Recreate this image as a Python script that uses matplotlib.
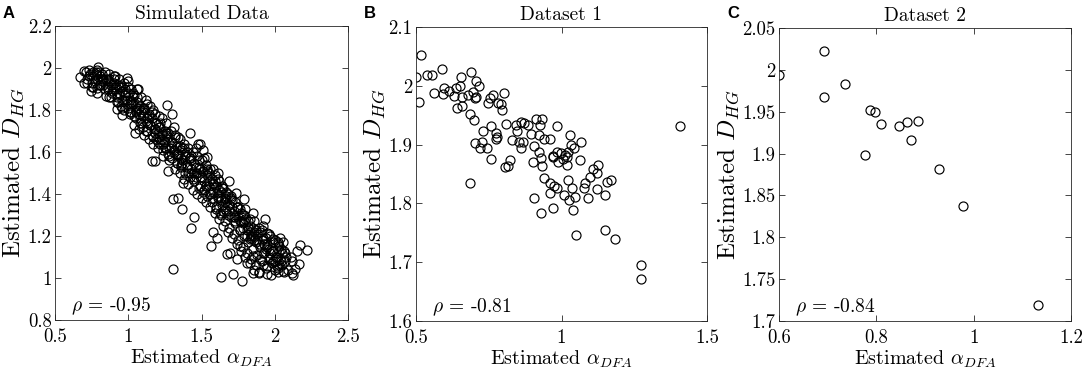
import matplotlib
matplotlib.use("Agg")
import matplotlib.pyplot as plt

plt.rcParams['font.family'] = 'serif'
plt.rcParams['font.serif'] = ['cmr10', 'DejaVu Serif']
plt.rcParams['mathtext.fontset'] = 'cm'
plt.rcParams['axes.unicode_minus'] = False
plt.rcParams['axes.formatter.use_mathtext'] = True

# ---------------- Panel A: simulated data ----------------
sim_alpha = [
    0.72, 0.74, 0.75, 0.76, 0.77, 0.78, 0.79, 0.80, 0.80, 0.81, 0.82, 0.83, 0.84, 0.85, 0.86, 0.87, 0.88, 0.89,
    0.90, 0.91, 0.92, 0.93, 0.94, 0.95, 0.96, 0.96, 0.97, 0.98, 0.99, 1.00, 1.00, 1.01, 1.02, 1.02, 1.03, 1.04,
    1.05, 1.05, 1.06, 1.07, 1.08, 1.08, 1.09, 1.10, 1.10, 1.11, 1.12, 1.13, 1.13, 1.14, 1.15, 1.16, 1.16, 1.17,
    1.18, 1.19, 1.19, 1.20, 1.21, 1.22, 1.22, 1.23, 1.24, 1.25, 1.25, 1.26, 1.27, 1.27, 1.28, 1.29, 1.30, 1.30,
    1.31, 1.32, 1.33, 1.33, 1.34, 1.35, 1.36, 1.36, 1.37, 1.38, 1.39, 1.39, 1.40, 1.41, 1.42, 1.42, 1.43, 1.44,
    1.45, 1.45, 1.46, 1.47, 1.48, 1.48, 1.49, 1.50, 1.51, 1.51, 1.52, 1.53, 1.54, 1.54, 1.55, 1.56, 1.57, 1.57,
    1.58, 1.59, 1.60, 1.60, 1.61, 1.62, 1.63, 1.63, 1.64, 1.65, 1.66, 1.66, 1.67, 1.68, 1.69, 1.69, 1.70, 1.71,
    1.72, 1.72, 1.73, 1.74, 1.75, 1.75, 1.76, 1.77, 1.78, 1.78, 1.79, 1.80, 1.81, 1.81, 1.82, 1.83, 1.84, 1.84,
    1.85, 1.86, 1.87, 1.87, 1.88, 1.89, 1.90, 1.91, 1.92, 1.93, 1.94, 1.95, 1.96, 1.97, 1.98, 1.99, 2.00, 2.01,
    2.02, 2.03, 2.05, 2.07, 2.09, 2.11,
    0.70, 0.73, 0.76, 0.79, 0.82, 0.84, 0.87, 0.88, 0.90, 0.92, 0.94, 0.95, 0.97, 0.98, 1.00, 1.01, 1.03, 1.04,
    1.06, 1.07, 1.09, 1.11, 1.12, 1.14, 1.15, 1.17, 1.18, 1.20, 1.21, 1.23, 1.24, 1.26, 1.28, 1.29, 1.31, 1.32,
    1.34, 1.35, 1.37, 1.38, 1.40, 1.41, 1.43, 1.44, 1.46, 1.47, 1.49, 1.50, 1.52, 1.53, 1.55, 1.56, 1.58, 1.59,
    1.61, 1.62, 1.64, 1.65, 1.67, 1.68, 1.70, 1.71, 1.73, 1.74, 1.76, 1.77, 1.79, 1.80, 1.82, 1.83, 1.85, 1.86,
    1.88, 1.89, 1.91, 1.92, 1.94, 1.95, 1.97, 1.99, 2.00, 2.02, 2.04, 2.06, 2.08, 1.06, 1.18, 1.26, 1.36, 1.46,
    1.56, 1.66, 1.76, 1.86, 1.96, 1.02, 1.13, 1.23, 1.33, 1.43, 1.53, 1.63, 1.73, 1.83, 1.93,
    0.71, 0.75, 0.78, 0.81, 0.83, 0.85, 0.86, 0.89, 0.91, 0.93, 0.95, 0.97, 0.99, 1.01, 1.03, 1.05, 1.07, 1.09,
    1.11, 1.13, 1.15, 1.17, 1.19, 1.21, 1.23, 1.25, 1.27, 1.29, 1.31, 1.33, 1.35, 1.37, 1.39, 1.41, 1.43, 1.45,
    1.47, 1.49, 1.51, 1.53, 1.55, 1.57, 1.59, 1.61, 1.63, 1.65, 1.67, 1.69, 1.71, 1.73, 1.75, 1.77, 1.79, 1.81,
    1.83, 1.85, 1.87, 1.89, 1.91, 1.93, 1.95, 1.97, 1.99, 2.01, 2.03, 2.05,
    0.72, 0.76, 0.79, 0.82, 0.84, 0.86, 0.87, 0.90, 0.92, 0.94, 0.96, 0.98, 1.00, 1.02, 1.04, 1.06, 1.08, 1.10,
    1.12, 1.14, 1.16, 1.18, 1.20, 1.22, 1.24, 1.26, 1.28, 1.30, 1.32, 1.34, 1.36, 1.38, 1.40, 1.42, 1.44, 1.46,
    1.48, 1.50, 1.52, 1.54, 1.56, 1.58, 1.60, 1.62, 1.64, 1.66, 1.68, 1.70, 1.72, 1.74, 1.76, 1.78, 1.80, 1.82,
    1.84, 1.86, 1.88, 1.90, 1.92, 1.94, 1.96, 1.98, 2.00, 2.02, 2.04, 2.06,
    0.671, 0.700, 0.746, 0.791, 0.784, 0.734, 0.910, 0.989, 1.069, 0.921, 0.955, 1.046, 1.160, 1.183, 1.262,
    1.296, 1.421, 1.478, 1.308, 1.365, 1.342, 1.451, 1.428, 1.308, 1.269, 1.376,
    1.490, 1.513, 1.540, 1.690, 1.793, 1.581, 1.604, 1.563, 1.672, 1.718, 1.631, 1.779, 1.854, 1.895, 1.972,
    2.025, 2.036, 2.054, 2.032, 2.070, 2.036, 2.116, 2.168, 2.123, 2.138, 2.116, 2.150, 2.173, 2.218, 1.934,
    1.922, 1.736, 1.854, 1.945, 1.991, 1.831, 1.854, 1.809, 1.945, 1.900, 1.763, 1.740, 2.013, 2.059, 1.695,
    1.786, 1.627, 1.661, 1.604, 1.581, 1.615, 1.535,
]
sim_dhg = [
    1.95, 1.97, 1.93, 1.96, 1.94, 1.97, 1.95, 1.92, 1.98, 1.96, 1.94, 1.95, 1.93, 1.95, 1.91, 1.94, 1.92, 1.89,
    1.93, 1.90, 1.87, 1.92, 1.88, 1.91, 1.85, 1.89, 1.93, 1.87, 1.83, 1.88, 1.81, 1.85, 1.90, 1.79, 1.83, 1.87,
    1.80, 1.76, 1.84, 1.78, 1.82, 1.74, 1.86, 1.77, 1.72, 1.80, 1.75, 1.70, 1.83, 1.78, 1.73, 1.68, 1.76, 1.80,
    1.71, 1.66, 1.74, 1.69, 1.77, 1.64, 1.72, 1.68, 1.61, 1.70, 1.65, 1.74, 1.59, 1.67, 1.62, 1.70, 1.57, 1.65,
    1.60, 1.68, 1.55, 1.63, 1.58, 1.66, 1.53, 1.61, 1.56, 1.64, 1.50, 1.59, 1.54, 1.62, 1.48, 1.57, 1.52, 1.60,
    1.46, 1.55, 1.50, 1.58, 1.43, 1.53, 1.48, 1.56, 1.41, 1.51, 1.46, 1.54, 1.39, 1.49, 1.44, 1.52, 1.36, 1.47,
    1.41, 1.49, 1.33, 1.44, 1.38, 1.46, 1.30, 1.41, 1.35, 1.43, 1.27, 1.38, 1.32, 1.40, 1.24, 1.35, 1.29, 1.37,
    1.21, 1.32, 1.26, 1.34, 1.18, 1.29, 1.23, 1.31, 1.15, 1.26, 1.20, 1.28, 1.12, 1.23, 1.17, 1.25, 1.09, 1.20,
    1.14, 1.22, 1.06, 1.17, 1.11, 1.24, 1.15, 1.08, 1.19, 1.12, 1.05, 1.16, 1.10, 1.20, 1.07, 1.13, 1.04, 1.10,
    1.16, 1.06, 1.12, 1.08, 1.04, 1.10,
    1.93, 1.99, 1.91, 1.99, 1.97, 1.90, 1.97, 1.86, 1.96, 1.84, 1.95, 1.82, 1.80, 1.90, 1.94, 1.78, 1.88, 1.73,
    1.90, 1.71, 1.79, 1.68, 1.85, 1.66, 1.82, 1.64, 1.78, 1.62, 1.72, 1.76, 1.58, 1.68, 1.56, 1.63, 1.72, 1.52,
    1.67, 1.50, 1.62, 1.47, 1.60, 1.45, 1.56, 1.42, 1.62, 1.40, 1.52, 1.38, 1.57, 1.36, 1.50, 1.34, 1.52, 1.31,
    1.47, 1.28, 1.44, 1.25, 1.41, 1.22, 1.38, 1.19, 1.36, 1.16, 1.33, 1.13, 1.30, 1.10, 1.27, 1.07, 1.24, 1.04,
    1.21, 1.03, 1.18, 1.06, 1.14, 1.02, 1.12, 1.08, 1.18, 1.05, 1.14, 1.03, 1.10, 1.81, 1.69, 1.62, 1.57, 1.48,
    1.40, 1.33, 1.27, 1.18, 1.14, 1.84, 1.76, 1.66, 1.59, 1.50, 1.44, 1.37, 1.29, 1.22, 1.16,
    1.98, 1.91, 1.98, 1.92, 1.92, 1.865, 1.95, 1.88, 1.91, 1.84, 1.92, 1.85, 1.85, 1.79, 1.86, 1.79, 1.81, 1.74,
    1.81, 1.74, 1.73, 1.67, 1.74, 1.67, 1.69, 1.62, 1.69, 1.62, 1.61, 1.55, 1.63, 1.55, 1.58, 1.50, 1.58, 1.50,
    1.50, 1.44, 1.51, 1.44, 1.46, 1.38, 1.46, 1.39, 1.38, 1.32, 1.39, 1.32, 1.34, 1.27, 1.34, 1.27, 1.27, 1.20,
    1.28, 1.20, 1.23, 1.16, 1.23, 1.16, 1.15, 1.09, 1.17, 1.10, 1.13, 1.06,
    1.93, 1.98, 1.88, 1.95, 1.98, 1.90, 1.86, 1.95, 1.86, 1.91, 1.81, 1.88, 1.91, 1.83, 1.77, 1.86, 1.76, 1.81,
    1.70, 1.77, 1.79, 1.71, 1.65, 1.74, 1.64, 1.69, 1.58, 1.65, 1.67, 1.59, 1.54, 1.62, 1.53, 1.57, 1.47, 1.53,
    1.56, 1.48, 1.42, 1.51, 1.41, 1.45, 1.34, 1.42, 1.43, 1.36, 1.30, 1.39, 1.29, 1.34, 1.23, 1.30, 1.33, 1.24,
    1.19, 1.27, 1.18, 1.22, 1.12, 1.19, 1.21, 1.13, 1.08, 1.17, 1.08, 1.13,
    1.957, 1.986, 1.890, 2.005, 1.906, 1.962, 1.962, 1.954, 1.898, 1.803, 1.775, 1.692, 1.557, 1.557, 1.822,
    1.779, 1.692, 1.637, 1.375, 1.327, 1.383, 1.292, 1.240, 1.041, 1.510, 1.454,
    1.637, 1.610, 1.578, 1.462, 1.375, 1.219, 1.190, 1.152, 1.113, 1.017, 1.006, 0.984, 1.025, 1.022, 1.013,
    1.029, 1.192, 1.171, 1.152, 1.121, 1.089, 1.081, 1.065, 1.013, 1.041, 1.025, 1.129, 1.156, 1.133, 1.279,
    1.248, 1.406, 1.311, 1.216, 1.184, 1.184, 1.105, 1.073, 1.057, 1.089, 1.152, 1.089, 1.057, 1.033, 1.121,
    1.240, 1.311, 1.375, 1.406, 1.454, 1.502, 1.518,
]

# ---------------- Panel B: dataset 1 ----------------
d1_alpha = [
    0.518, 0.500, 0.539, 0.556, 0.589, 0.511, 0.562, 0.594, 0.597, 0.613, 0.631, 0.639, 0.650, 0.655, 0.689,
    0.706, 0.716, 0.640, 0.659, 0.657, 0.679, 0.695, 0.705, 0.703, 0.686, 0.700, 0.746, 0.755, 0.766, 0.782,
    0.793, 0.801, 0.794, 0.759, 0.730, 0.808, 0.774, 0.779, 0.775, 0.703, 0.727, 0.719, 0.745, 0.845, 0.862,
    0.871, 0.848, 0.831, 0.854, 0.868, 0.860,
    0.911, 0.934, 0.925, 0.886, 0.895, 0.923, 0.940, 0.962, 0.983, 1.029, 1.066, 1.032, 1.043, 1.023, 1.012,
    0.907, 0.923, 0.972, 0.999, 0.986,
    0.758, 0.823, 0.805, 0.815, 0.684, 0.902, 0.931, 0.932, 0.970, 0.988, 1.004, 1.020, 1.020, 1.065, 1.127,
    1.107, 1.122, 1.099, 1.080, 1.077, 1.022, 1.036, 0.940, 0.959, 0.974, 0.986, 0.960, 1.009, 1.026, 1.045,
    1.090, 1.121, 1.149, 1.155, 1.170, 0.905, 0.972, 0.928, 1.038, 1.049, 1.149, 1.184, 1.274, 1.272, 1.406,
]
d1_dhg = [
    2.052, 2.015, 2.019, 2.019, 2.029, 1.972, 1.988, 1.986, 1.997, 1.991, 1.983, 1.997, 1.999, 2.015, 2.023,
    2.008, 2.000, 1.963, 1.966, 1.981, 1.984, 1.990, 1.981, 1.979, 1.952, 1.941, 1.971, 1.980, 1.984, 1.971,
    1.969, 1.987, 1.958, 1.932, 1.923, 1.935, 1.919, 1.913, 1.909, 1.902, 1.905, 1.894, 1.894, 1.933, 1.938,
    1.936, 1.923, 1.908, 1.904, 1.904, 1.894,
    1.943, 1.943, 1.933, 1.933, 1.918, 1.916, 1.909, 1.910, 1.932, 1.916, 1.905, 1.899, 1.894, 1.887, 1.882,
    1.898, 1.888, 1.881, 1.885, 1.887,
    1.876, 1.873, 1.862, 1.864, 1.835, 1.870, 1.878, 1.864, 1.879, 1.871, 1.876, 1.866, 1.879, 1.874, 1.865,
    1.859, 1.851, 1.845, 1.835, 1.827, 1.840, 1.826, 1.843, 1.834, 1.829, 1.827, 1.818, 1.814, 1.806, 1.811,
    1.810, 1.824, 1.815, 1.836, 1.839, 1.809, 1.793, 1.784, 1.788, 1.746, 1.755, 1.739, 1.696, 1.671, 1.932,
]

# ---------------- Panel C: dataset 2 ----------------
d2_alpha = [0.600, 0.693, 0.736, 0.692, 0.788, 0.797, 0.810, 0.847, 0.864, 0.886, 0.871, 0.777, 0.929, 0.978, 1.132]
d2_dhg = [1.994, 2.023, 1.983, 1.968, 1.952, 1.950, 1.935, 1.933, 1.938, 1.939, 1.916, 1.898, 1.881, 1.837, 1.719]

titles = ["Simulated Data", "Dataset 1", "Dataset 2"]
letters = ["A", "B", "C"]
rho_labels = ["-0.95", "-0.81", "-0.84"]

xlims = [(0.5, 2.5), (0.5, 1.5), (0.6, 1.2)]
ylims = [(0.8, 2.2), (1.6, 2.1), (1.7, 2.05)]
xticks = [[0.5, 1.0, 1.5, 2.0, 2.5], [0.5, 1.0, 1.5], [0.6, 0.8, 1.0, 1.2]]
xticklabels = [["0.5", "1", "1.5", "2", "2.5"], ["0.5", "1", "1.5"], ["0.6", "0.8", "1", "1.2"]]
yticks = [[0.8, 1.0, 1.2, 1.4, 1.6, 1.8, 2.0, 2.2],
          [1.6, 1.7, 1.8, 1.9, 2.0, 2.1],
          [1.7, 1.75, 1.8, 1.85, 1.9, 1.95, 2.0, 2.05]]
yticklabels = [["0.8", "1", "1.2", "1.4", "1.6", "1.8", "2", "2.2"],
               ["1.6", "1.7", "1.8", "1.9", "2", "2.1"],
               ["1.7", "1.75", "1.8", "1.85", "1.9", "1.95", "2", "2.05"]]

W, H = 1084, 373
fig = plt.figure(figsize=(W / 100, H / 100), dpi=100)
boxes = [(55, 26, 348, 320), (416, 27, 707, 321), (779, 28, 1071, 321)]
data = [(sim_alpha, sim_dhg), (d1_alpha, d1_dhg), (d2_alpha, d2_dhg)]
letter_x = [3, 364, 727]

spine_col = '#262626'
for i in range(3):
    l, t, r, b = boxes[i]
    ax = fig.add_axes([l / W, 1 - b / H, (r - l) / W, (b - t) / H])
    xs, ys = data[i]
    ax.plot(xs, ys, linestyle='none', marker='o', markersize=6.5, markerfacecolor='none',
            markeredgecolor='black', markeredgewidth=0.85)
    ax.set_xlim(*xlims[i])
    ax.set_ylim(*ylims[i])
    ax.set_xticks(xticks[i])
    ax.set_xticklabels(xticklabels[i], fontsize=13.5)
    ax.set_yticks(yticks[i])
    ax.set_yticklabels(yticklabels[i], fontsize=13.5)
    ax.tick_params(direction='in', top=True, right=True, length=4, width=0.6,
                   colors=spine_col, labelcolor='black')
    ax.tick_params(axis='x', pad=6)
    ax.tick_params(axis='y', pad=2.5)
    for sp in ax.spines.values():
        sp.set_color(spine_col)
        sp.set_linewidth(0.6)
    ax.set_title(titles[i], fontsize=14, pad=5)
    ax.set_xlabel(r"Estimated $\alpha_{DFA}$", fontsize=14.5, labelpad=1)
    ax.set_ylabel(r"Estimated $D_{HG}$", fontsize=18, labelpad=1)
    ax.text(0.055, 0.03, r"$\rho$ = " + rho_labels[i], transform=ax.transAxes,
            fontsize=14, va='baseline', ha='left')
    fig.text(letter_x[i] / W, 1 - 18 / H, letters[i], fontsize=12, fontweight='bold',
             family='Liberation Sans', ha='left', va='baseline')

fig.savefig("out.png", dpi=100)
